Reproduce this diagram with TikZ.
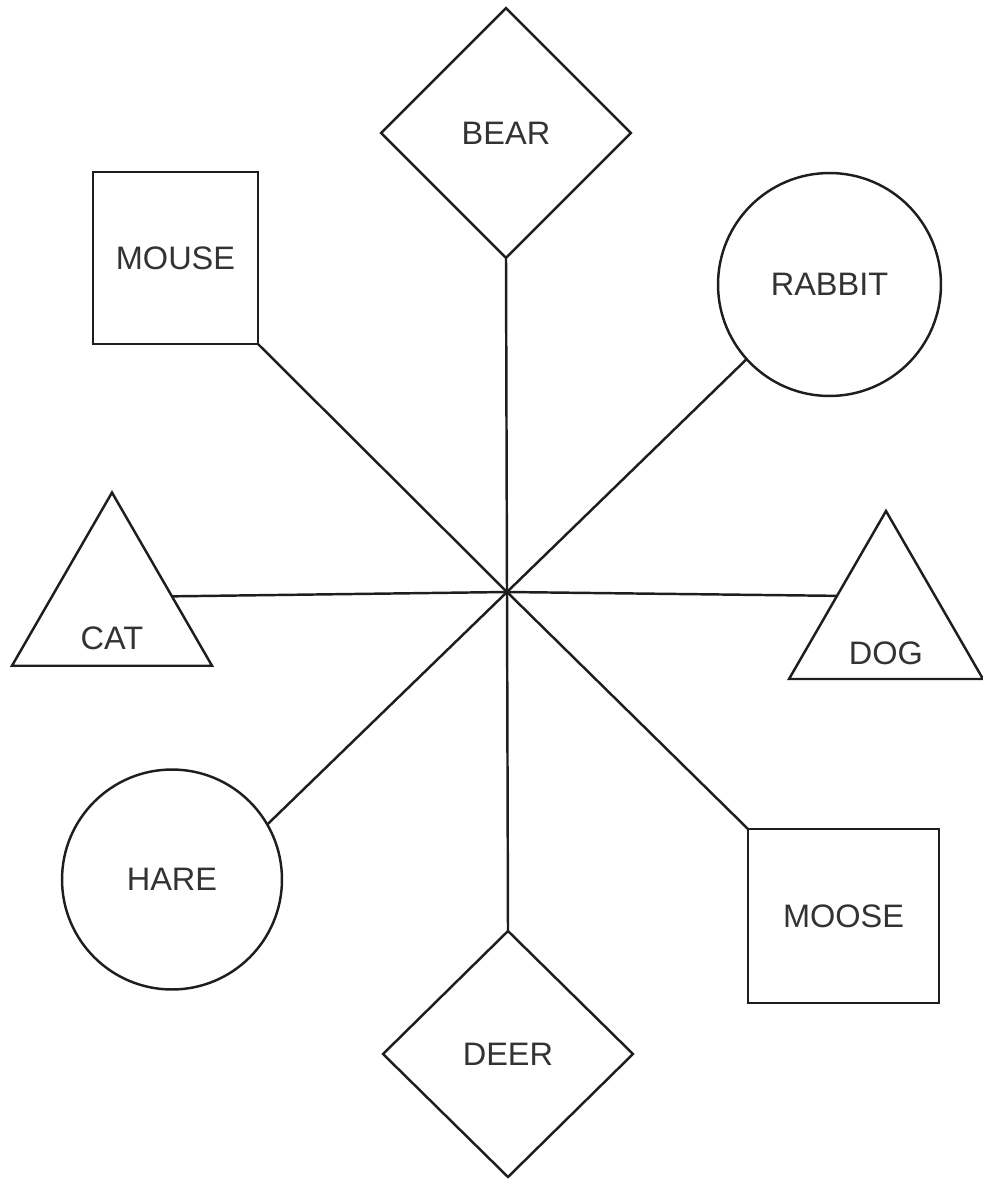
\documentclass[tikz,border=0pt]{standalone}
\usepackage{fontspec}
\setmainfont{Liberation Sans}
\usepackage{xcolor}
\usetikzlibrary{shapes.geometric}

\definecolor{ink}{HTML}{1E1E1E}
\definecolor{txt}{HTML}{333333}

\begin{document}
\begin{tikzpicture}[
			x=0.02cm, y=-0.02cm,
			every node/.style={draw=ink, line width=1.4pt, inner sep=0pt, outer sep=0pt,
				text=txt, font=\fontsize{18.5}{22}\selectfont},
			sqr/.style={rectangle},
			rnd/.style={circle, minimum size=#1},
			dia/.style={diamond, minimum width=5cm, minimum height=5cm},
			tri/.style={regular polygon, regular polygon sides=3, minimum size=#1},
			lbl/.style={draw=none},
			spoke/.style={draw=ink, line width=1.4pt}
			]
			\useasboundingbox (0,0) rectangle (983,1180);
			
			\coordinate (hub) at (507,592);
			
			\node[dia] (bear) at (506,133) {BEAR};
			\node[dia, minimum height=4.92cm] (deer) at (508,1054) {DEER};
			\node[sqr, minimum width=3.3cm, minimum height=3.44cm] (mouse) at (175.5,258) {MOUSE};
			\node[sqr, minimum width=3.82cm, minimum height=3.48cm] (moose) at (843.5,916) {MOOSE};
			\node[rnd=4.46cm] (rabbit) at (829.5,284.5) {RABBIT};
			\node[rnd=4.4cm] (hare) at (172,879.5) {HARE};
			\node[tri=4.62cm] (cat) at (112,608) {};
			\node[tri=4.48cm] (dog) at (886,623) {};
			
			\node[lbl] at ([yshift=-0.6cm]cat.center) {CAT};
			\node[lbl] at ([yshift=-0.6cm]dog.center) {DOG};
			
			\draw[spoke] (hub) -- (bear.south);
			\draw[spoke] (hub) -- (deer.north);
			\draw[spoke] (hub) -- (mouse.south east);
			\draw[spoke] (hub) -- (moose.north west);
			\draw[spoke] (hub) -- (rabbit.222);
			\draw[spoke] (hub) -- (hare.30);
			\draw[spoke] (hub) -- (cat.11);
			\draw[spoke] (hub) -- (dog.151);
		\end{tikzpicture}
\end{document}
